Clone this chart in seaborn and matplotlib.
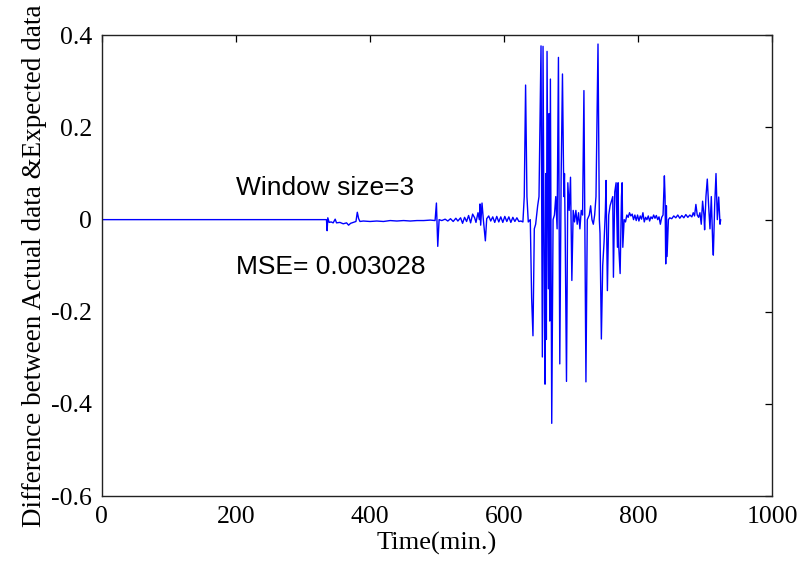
import matplotlib
matplotlib.use("Agg")
import matplotlib.pyplot as plt
import seaborn as sns
import pandas as pd

time_min = [
    0, 335, 336, 337, 339, 342, 345, 348, 350, 355, 360, 365, 368, 371, 375, 379,
    381, 383, 385, 390, 400, 410, 420, 430, 440, 450, 460, 470, 480, 490, 497,
    499, 501, 503, 507, 512, 516, 520, 524, 528, 531, 535, 538, 541, 544, 547,
    550, 553, 556, 558, 561, 563, 564, 565, 567, 569, 572, 574, 577, 580, 583,
    586, 589, 592, 595, 598, 601, 604, 607, 610, 613, 616, 619, 622, 625, 628,
    630, 632, 634, 636, 639, 641, 643, 645, 647, 650, 652, 655, 657, 658, 659,
    660, 661, 662, 663, 664, 665, 666, 667, 668, 669, 671, 673, 675, 677, 679,
    681, 683, 685, 687, 689, 690, 691, 693, 695, 697, 699, 701, 703, 705, 707,
    709, 711, 713, 715, 717, 719, 722, 724, 727, 729, 731, 733, 735, 737, 740,
    742, 743, 745, 747, 749, 751, 752, 754, 756, 758, 760, 762, 763, 765, 767,
    769, 770, 771, 773, 775, 776, 777, 779, 781, 783, 785, 787, 789, 791, 793,
    795, 797, 799, 801, 803, 805, 807, 809, 811, 813, 815, 817, 819, 821, 823,
    825, 827, 829, 831, 833, 835, 837, 839, 840, 841, 842, 843, 845, 847, 850,
    853, 856, 859, 862, 865, 868, 871, 874, 877, 880, 882, 884, 886, 888, 890,
    892, 894, 896, 898, 899, 901, 903, 905, 907, 909, 911, 912, 914, 916, 918,
    920, 922, 923,
]
difference = [
    0.0, 0.0, -0.024, 0.004, -0.006, -0.005, -0.007, 0.001, -0.007, -0.006,
    -0.009, -0.007, -0.012, -0.008, -0.006, -0.004, 0.016, 0.002, -0.004,
    -0.003, -0.004, -0.003, -0.004, -0.002, -0.003, -0.002, -0.003, -0.002,
    -0.002, -0.001, -0.002, 0.036, -0.058, 0.000, -0.002, 0.001, -0.003, 0.002,
    -0.004, 0.003, -0.003, 0.004, -0.008, 0.005, -0.004, 0.009, -0.007, 0.012,
    0.004, -0.006, 0.015, 0.000, 0.034, -0.012, 0.036, 0.000, -0.046, 0.002,
    0.008, -0.003, 0.006, -0.006, 0.007, -0.005, 0.006, -0.006, 0.007, -0.004,
    0.006, -0.006, 0.005, -0.004, 0.004, -0.004, -0.003, -0.005, 0.05, 0.292,
    0.05, -0.005, 0.0, -0.17, -0.252, -0.02, -0.01, 0.03, 0.05, 0.377, -0.298,
    0.376, 0.08, -0.2, -0.357, 0.1, -0.26, 0.365, 0.1, -0.15, 0.23, -0.22,
    0.305, -0.442, 0.0, 0.01, 0.05, -0.02, 0.352, -0.313, 0.09, 0.316, 0.05,
    0.1, -0.02, -0.351, 0.08, 0.02, 0.092, -0.132, 0.02, -0.005, 0.02, -0.01,
    0.015, -0.02, 0.02, 0.01, 0.28, -0.352, 0.0, 0.01, 0.03, 0.0, -0.01, 0.01,
    0.05, 0.381, 0.0, -0.03, -0.259, -0.1, -0.05, 0.02, 0.085, -0.154, 0.01,
    0.03, 0.04, 0.05, -0.125, 0.06, 0.08, -0.06, 0.08, -0.06, -0.117, 0.05,
    0.08, -0.06, 0.0, -0.005, 0.01, 0.005, 0.015, 0.008, 0.012, 0.0, 0.01,
    -0.002, 0.01, -0.003, 0.008, 0.001, 0.015, -0.005, 0.005, 0.0, 0.008,
    -0.003, 0.006, 0.002, 0.01, 0.003, 0.009, 0.0, 0.006, -0.01, 0.005, 0.01,
    0.095, 0.05, -0.096, 0.03, -0.08, 0.0, 0.004, 0.002, 0.008, 0.004, 0.01,
    0.003, 0.009, 0.004, 0.011, 0.005, 0.01, 0.006, 0.015, 0.008, 0.033, 0.01,
    0.005, 0.015, -0.01, 0.04, 0.01, -0.022, 0.05, 0.088, 0.03, -0.02, 0.05,
    -0.05, -0.077, 0.03, 0.1, 0.0, 0.049, -0.01, 0.0,
]
x_ticks = [0, 200, 400, 600, 800, 1000]
y_ticks = [-0.6, -0.4, -0.2, 0, 0.2, 0.4]
y_tick_labels = ["-0.6", "-0.4", "-0.2", "0", "0.2", "0.4"]
x_label = "Time(min.)"
y_label = "Difference between Actual data &Expected data"
note_window = "Window size=3"
note_mse = "MSE= 0.003028"

df = pd.DataFrame({"t": time_min, "d": difference})

sns.set_style("white")
plt.rcParams["font.family"] = ["Liberation Serif", "DejaVu Serif"]
plt.rcParams["text.color"] = "black"
plt.rcParams["axes.labelcolor"] = "black"
plt.rcParams["xtick.color"] = "black"
plt.rcParams["ytick.color"] = "black"

fig = plt.figure(figsize=(8.02, 5.69), dpi=100)
ax = fig.add_axes([0.127, 0.128, 0.836, 0.810])

sns.lineplot(data=df, x="t", y="d", ax=ax, color="#0000ff", linewidth=1.0,
             estimator=None, sort=False)

ax.set_xlim(0, 1000)
ax.set_ylim(-0.6, 0.4)
ax.set_xticks(x_ticks)
ax.set_xticklabels([str(v) for v in x_ticks])
ax.set_yticks(y_ticks)
ax.set_yticklabels(y_tick_labels)
ax.tick_params(axis="both", direction="in", length=5, width=0.9,
               labelsize=18.5, colors="black", top=True, right=True, pad=7)
for s in ax.spines.values():
    s.set_color("#222222")
    s.set_linewidth(1.0)

ax.set_xlabel(x_label, fontsize=19, labelpad=3)
ax.set_ylabel(y_label, fontsize=19.5, labelpad=3)

ax.text(200, 0.069, note_window, fontsize=19, family="Liberation Sans",
        va="center", ha="left", color="black")
ax.text(200, -0.103, note_mse, fontsize=19, family="Liberation Sans",
        va="center", ha="left", color="black")

fig.savefig("out.png", dpi=100)
